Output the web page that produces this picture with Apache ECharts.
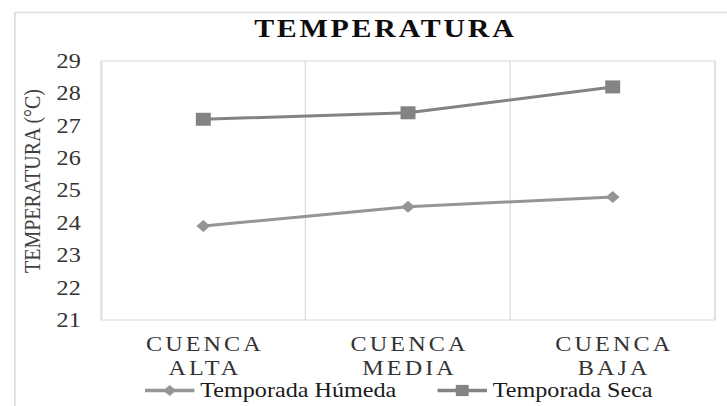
<!DOCTYPE html>
<html>
<head>
<meta charset="utf-8">
<script src="https://cdn.jsdelivr.net/npm/echarts@6/dist/echarts.min.js"></script>
<style>
html,body{margin:0;padding:0;background:#fff;overflow:hidden;width:727px;height:406px;}
#c{width:632px;height:406px;transform:scaleX(1.1503);transform-origin:0 0;}
</style>
</head>
<body>
<div id="c"></div>
<script>
const titleText = 'TEMPERATURA';
const yAxisName = 'TEMPERATURA (°C)';
const categories = ['CUENCA\nALTA', 'CUENCA\nMEDIA', 'CUENCA\nBAJA'];
const seriesNames = ['Temporada Húmeda', 'Temporada Seca'];
const humeda = [23.9, 24.5, 24.8];
const seca = [27.2, 27.4, 28.2];
const yMin = 21, yMax = 29, yStep = 1;

const FONT = "Liberation Serif";
const chart = echarts.init(document.getElementById('c'), null, {renderer: 'svg'});
chart.setOption({
  animation: false,
  backgroundColor: '#ffffff',
  title: {
    text: titleText,
    left: 335, top: 15, padding: 0, textAlign: 'center',
    textStyle: {fontFamily: FONT, fontWeight: 'bold', fontSize: 26, color: '#0d0d0d'}
  },
  graphic: [{
    type: 'rect', left: 10.4, top: 10, silent: true,
    shape: {width: 700, height: 420},
    style: {fill: 'none', stroke: '#dcdcdc', lineWidth: 1.5}
  }],
  legend: {
    left: 124.3, top: 380, padding: 0,
    itemWidth: 43, itemHeight: 14, itemGap: 34,
    lineStyle: {width: 3.5},
    textStyle: {fontFamily: FONT, fontSize: 21, color: '#1a1a1a'},
    data: seriesNames
  },
  grid: {
    left: 87.8, right: 10.4, top: 61, bottom: 86,
    show: true, borderColor: '#d9d9d9', borderWidth: 1
  },
  xAxis: {
    type: 'category', data: categories, boundaryGap: true,
    axisLine: {show: false}, axisTick: {show: false},
    splitLine: {show: true, interval: 0, lineStyle: {color: '#d9d9d9', width: 1}},
    axisLabel: {
      interval: 0, margin: 12.5, fontFamily: FONT, fontSize: 21, lineHeight: 24,
      color: '#333333', padding: [0, 0, 0, 2.7]
    }
  },
  yAxis: {
    type: 'value', min: yMin, max: yMax, interval: yStep,
    name: yAxisName, nameLocation: 'middle', nameGap: 48,
    nameTextStyle: {fontFamily: FONT, fontSize: 20, color: '#404040', padding: [0, 0, 0, 19]},
    axisLine: {show: false}, axisTick: {show: false}, splitLine: {show: false},
    axisLabel: {margin: 17.6, fontFamily: FONT, fontSize: 21, color: '#333333'}
  },
  series: [
    {
      name: seriesNames[0], type: 'line', data: humeda,
      symbol: 'diamond', symbolSize: [12, 12],
      lineStyle: {color: '#959595', width: 3},
      itemStyle: {color: '#959595'}
    },
    {
      name: seriesNames[1], type: 'line', data: seca,
      symbol: 'rect', symbolSize: 13,
      lineStyle: {color: '#838383', width: 3},
      itemStyle: {color: '#838383'}
    }
  ]
});

function spacing() {
  const texts = document.querySelectorAll('#c text');
  texts.forEach(t => {
    const s = (t.textContent || '').trim();
    let ls = null;
    if (s === titleText) ls = '2.4px';
    else if (/^(CUENCA|ALTA|MEDIA|BAJA)/.test(s)) ls = '2.7px';
    if (ls) t.style.letterSpacing = ls;
  });
}
spacing();
chart.on('finished', spacing);
let n = 0;
const iv = setInterval(() => { spacing(); if (++n > 20) clearInterval(iv); }, 50);
</script>
</body>
</html>
